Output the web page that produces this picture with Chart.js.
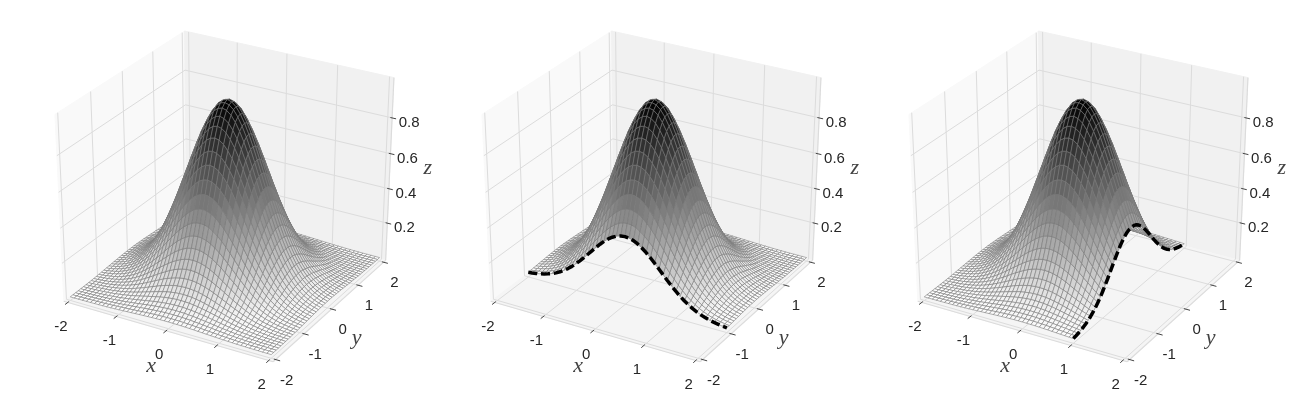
<!DOCTYPE html>
<html lang="en">
<head>
  <meta charset="UTF-8">
  <title>Gaussian surface slices</title>
  <script src="https://cdn.jsdelivr.net/npm/chart.js"></script>
  <style>
    body { margin: 0; background: #fff; width: 1297px; height: 394px; overflow: hidden; position: relative; }
    canvas { position: absolute; top: 0; }
  </style>
</head>
<body>
  <canvas id="panel0" width="443" height="394" style="left:0px"></canvas>
  <canvas id="panel1" width="443" height="394" style="left:427px"></canvas>
  <canvas id="panel2" width="443" height="394" style="left:854px"></canvas>

  <script>
    // values
    const tickX = [-2, -1, 0, 1, 2];
    const tickY = [-2, -1, 0, 1, 2];
    const tickZ = [0.2, 0.4, 0.6, 0.8];
    const gridValues = [-2, -1.917, -1.833, -1.75, -1.667, -1.583, -1.5, -1.417, -1.333, -1.25, -1.167,
      -1.083, -1, -0.917, -0.833, -0.75, -0.667, -0.583, -0.5, -0.417, -0.333, -0.25, -0.167, -0.083, 0,
      0.083, 0.167, 0.25, 0.333, 0.417, 0.5, 0.583, 0.667, 0.75, 0.833, 0.917, 1, 1.083, 1.167, 1.25,
      1.333, 1.417, 1.5, 1.583, 1.667, 1.75, 1.833, 1.917, 2];
    // height of the bump along one axis, the surface is profile[i] * profile[j]
    const profile = [0.018, 0.025, 0.035, 0.047, 0.062, 0.082, 0.105, 0.134, 0.169, 0.210, 0.256, 0.309,
      0.368, 0.432, 0.499, 0.570, 0.641, 0.712, 0.779, 0.841, 0.895, 0.939, 0.973, 0.993, 1,
      0.993, 0.973, 0.939, 0.895, 0.841, 0.779, 0.712, 0.641, 0.570, 0.499, 0.432, 0.368, 0.309, 0.256,
      0.210, 0.169, 0.134, 0.105, 0.082, 0.062, 0.047, 0.035, 0.025, 0.018];
    const panelXMax = [2, 2, 1];
    const panelYMin = [-2, -1, -2];
    const cutAxis = [null, 'y', 'x'];

    // mplot3d style view: elev 30, azim -60, dist 10
    const padXY = 4 / 48, padZ = 1 / 48;
    function project(x, y, z) {
      const a = (x + 2) / 4 - 0.5, b = (y + 2) / 4 - 0.5, c = z - 0.5;
      const w = 10 - (0.433 * a - 0.75 * b + 0.5 * c);
      return { x: (0.866 * a + 0.5 * b) / w, y: (-0.25 * a + 0.433 * b + 0.866 * c) / w };
    }
    function depth(x, y, z) {
      return 0.433 * (x + 2) / 4 - 0.75 * (y + 2) / 4 + 0.5 * z;
    }
    function path(points) {
      return points.map(p => project(p[0], p[1], p[2]));
    }
    function lineSet(points, color, width, dash) {
      return { data: path(points), borderColor: color, borderWidth: width, borderDash: dash || [], fill: false };
    }
    function faceSet(points, color, edge, width) {
      const closed = points.concat([points[0]]);
      return { data: path(closed), faceColor: color, borderColor: edge, borderWidth: width, fill: false };
    }

    // fills the polygon of a dataset from the points the chart has placed
    const faceFill = {
      id: 'faceFill',
      beforeDatasetDraw(chart, args) {
        const ds = chart.data.datasets[args.index];
        if (!ds.faceColor) return;
        const ctx = chart.ctx, pts = args.meta.data;
        ctx.save();
        ctx.beginPath();
        pts.forEach((p, i) => i ? ctx.lineTo(p.x, p.y) : ctx.moveTo(p.x, p.y));
        ctx.closePath();
        ctx.fillStyle = ds.faceColor;
        ctx.fill();
        ctx.restore();
      }
    };

    const axisText = {
      id: 'axisText',
      afterDraw(chart) {
        const ctx = chart.ctx;
        const put = (p, dx, dy, text) => {
          const q = project(p[0], p[1], p[2]);
          ctx.fillText(text, chart.scales.x.getPixelForValue(q.x) + dx, chart.scales.y.getPixelForValue(q.y) + dy);
        };
        ctx.save();
        ctx.textAlign = 'center';
        ctx.textBaseline = 'middle';
        ctx.fillStyle = '#262626';
        ctx.font = '15px "Liberation Sans"';
        tickX.forEach(t => put([t, -2 - padXY, -padZ], -7, 24, String(t)));
        tickY.forEach(t => put([2 + padXY, t, -padZ], 11, 21, String(t)));
        tickZ.forEach(t => put([2 + padXY, 2 + padXY, t], 17, 5, t.toFixed(1)));
        ctx.fillStyle = '#444';
        ctx.font = 'italic 22px "Liberation Serif"';
        put([0, -2 - padXY, -padZ], -15, 35, 'x');
        put([2 + padXY, 0, -padZ], 25, 29, 'y');
        put([2 + padXY, 2 + padXY, 0.5], 38, -3, 'z');
        ctx.restore();
      }
    };

    function buildDatasets(n) {
      const lo = -2 - padXY, hi = 2 + padXY, zLo = -padZ, zHi = 1 + padZ;
      const sets = [];
      // panes
      sets.push(faceSet([[lo, lo, zLo], [lo, hi, zLo], [lo, hi, zHi], [lo, lo, zHi]], '#f9f9f9', '#f9f9f9', 1));
      sets.push(faceSet([[lo, hi, zLo], [hi, hi, zLo], [hi, hi, zHi], [lo, hi, zHi]], '#f1f1f1', '#f1f1f1', 1));
      sets.push(faceSet([[lo, lo, zLo], [hi, lo, zLo], [hi, hi, zLo], [lo, hi, zLo]], '#f5f5f5', '#f5f5f5', 1));
      // grid
      tickX.forEach(t => sets.push(lineSet([[t, lo, zLo], [t, hi, zLo], [t, hi, zHi]], '#dcdcdc', 1)));
      tickY.forEach(t => sets.push(lineSet([[hi, t, zLo], [lo, t, zLo], [lo, t, zHi]], '#dcdcdc', 1)));
      tickZ.forEach(t => sets.push(lineSet([[lo, lo, t], [lo, hi, t], [hi, hi, t]], '#dcdcdc', 1)));
      // axis lines
      sets.push(lineSet([[lo, lo, zLo], [hi, lo, zLo]], '#dcdcdc', 1.2));
      sets.push(lineSet([[hi, lo, zLo], [hi, hi, zLo]], '#dcdcdc', 1.2));
      sets.push(lineSet([[hi, hi, zLo], [hi, hi, zHi]], '#dcdcdc', 1.2));
      // surface, far faces first
      const faces = [];
      for (let i = 0; i < gridValues.length - 1; i++) {
        for (let j = 0; j < gridValues.length - 1; j++) {
          const x0 = gridValues[i], x1 = gridValues[i + 1], y0 = gridValues[j], y1 = gridValues[j + 1];
          if (x1 > panelXMax[n] || y0 < panelYMin[n]) continue;
          const z00 = profile[i] * profile[j], z10 = profile[i + 1] * profile[j];
          const z11 = profile[i + 1] * profile[j + 1], z01 = profile[i] * profile[j + 1];
          const zMean = (z00 + z10 + z11 + z01) / 4;
          const g = Math.round(255 * (1 - zMean));
          faces.push({
            d: depth((x0 + x1) / 2, (y0 + y1) / 2, zMean),
            set: faceSet([[x0, y0, z00], [x1, y0, z10], [x1, y1, z11], [x0, y1, z01]],
              'rgb(' + g + ',' + g + ',' + g + ')', '#7a7a7a', 0.6)
          });
        }
      }
      faces.sort((a, b) => a.d - b.d);
      faces.forEach(f => sets.push(f.set));
      // tick marks
      tickX.forEach(t => sets.push(lineSet([[t, -2.05, zLo], [t, -2.17, zLo]], '#444', 1)));
      tickY.forEach(t => sets.push(lineSet([[2.05, t, zLo], [2.17, t, zLo]], '#444', 1)));
      tickZ.forEach(t => sets.push(lineSet([[2.05, hi, t], [2.16, hi, t]], '#444', 1)));
      // the dashed cut through the surface
      if (cutAxis[n]) {
        const cut = [];
        gridValues.forEach((v, i) => {
          if (cutAxis[n] === 'y') cut.push([v, panelYMin[n], profile[i] * profile[gridValues.indexOf(panelYMin[n])]]);
          else cut.push([panelXMax[n], v, profile[i] * profile[gridValues.indexOf(panelXMax[n])]]);
        });
        sets.push(lineSet(cut, '#000', 3.5, [9, 3.8]));
      }
      // chart.js paints the first dataset last
      return sets.reverse();
    }

    [0, 1, 2].forEach(n => {
      new Chart(document.getElementById('panel' + n).getContext('2d'), {
        type: 'line',
        data: { datasets: buildDatasets(n) },
        plugins: [faceFill, axisText],
        options: {
          responsive: false,
          animation: false,
          events: [],
          layout: { padding: 0 },
          elements: { point: { radius: 0 }, line: { tension: 0, borderJoinStyle: 'round' } },
          plugins: { legend: { display: false }, tooltip: { enabled: false } },
          scales: {
            x: { type: 'linear', display: false, min: -227.3 / 2320, max: (443 - 227.3) / 2320 },
            y: { type: 'linear', display: false, min: (190.5 - 394) / 2047, max: 190.5 / 2047 }
          }
        }
      });
    });
  </script>
</body>
</html>
